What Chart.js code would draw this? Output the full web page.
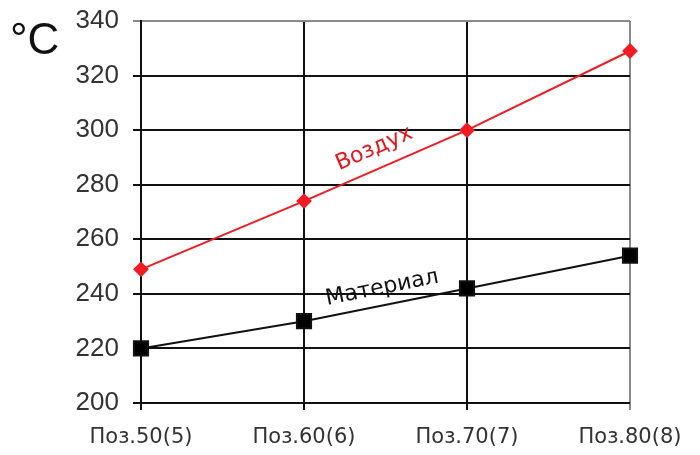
<!DOCTYPE html>
<html>
<head>
<meta charset="utf-8">
<script src="https://cdn.jsdelivr.net/npm/chart.js@4"></script>
<style>
  html, body { margin: 0; padding: 0; background: #fff; }
  #wrap { width: 700px; height: 455px; position: relative; }
</style>
</head>
<body>
<div id="wrap"><canvas id="tempChart"></canvas></div>
<script>
// data
const positions = ['Поз.50(5)', 'Поз.60(6)', 'Поз.70(7)', 'Поз.80(8)'];
const airTemp = [249, 274, 300, 329];
const materialTemp = [220, 230, 242, 254];
const yTicks = [200, 220, 240, 260, 280, 300, 320, 340];

// text labels drawn along the lines + unit in the corner
const lineLabels = {
  id: 'lineLabels',
  afterDatasetsDraw(chart) {
    const ctx = chart.ctx;
    const put = (dsIndex, text, color, t, lift) => {
      const meta = chart.getDatasetMeta(dsIndex);
      const a = meta.data[1], b = meta.data[2];
      const ang = Math.atan2(b.y - a.y, b.x - a.x);
      const x = a.x + (b.x - a.x) * t + Math.sin(ang) * lift;
      const y = a.y + (b.y - a.y) * t - Math.cos(ang) * lift;
      ctx.save();
      ctx.translate(x, y);
      ctx.rotate(ang);
      ctx.fillStyle = color;
      ctx.font = '22px "DejaVu Sans", sans-serif';
      ctx.textAlign = 'center';
      ctx.textBaseline = 'middle';
      ctx.fillText(text, 0, 0);
      ctx.restore();
    };
    put(0, 'Воздух', '#e8141b', 0.48, 20);
    put(1, 'Материал', '#111', 0.5, 17);

    ctx.save();
    ctx.fillStyle = '#111';
    ctx.font = '44px "Liberation Sans", Arial, sans-serif';
    ctx.textBaseline = 'top';
    ctx.fillText('°C', 10, 20);
    ctx.restore();
  }
};

const ctx = document.getElementById('tempChart').getContext('2d');
const tempChart = new Chart(ctx, {
  type: 'line',
  data: {
    labels: positions,
    datasets: [{
      label: 'Воздух',
      data: airTemp,
      borderColor: '#f01c22',
      backgroundColor: '#f01c22',
      borderWidth: 2,
      pointStyle: 'rectRot',
      pointRadius: 6.5,
      tension: 0
    }, {
      label: 'Материал',
      data: materialTemp,
      borderColor: '#111',
      backgroundColor: '#000',
      borderWidth: 2,
      pointStyle: 'rect',
      pointRadius: 10,
      tension: 0
    }]
  },
  options: {
    responsive: true,
    maintainAspectRatio: false,
    animation: false,
    layout: { padding: { top: 21, right: 70, bottom: 0, left: 0 } },
    plugins: {
      legend: { display: false },
      tooltip: { enabled: false }
    },
    scales: {
      x: {
        offset: false,
        afterFit: (scale) => { scale.height = 52; },
        grid: {
          color: (c) => c.index === positions.length - 1 ? '#8a8a8a' : '#111',
          lineWidth: 2,
          tickLength: 7,
          drawTicks: true
        },
        border: { display: false },
        ticks: {
          color: '#333',
          font: { family: '"DejaVu Sans", sans-serif', size: 21 },
          padding: 15,
          maxRotation: 0
        }
      },
      y: {
        min: yTicks[0],
        max: yTicks[yTicks.length - 1],
        afterFit: (scale) => {
          scale.width = 141;
          scale.paddingTop = 0;
          scale.paddingBottom = 0;
        },
        afterBuildTicks: (scale) => { scale.ticks = yTicks.map(v => ({ value: v })); },
        grid: {
          color: (c) => c.index === yTicks.length - 1 ? '#8a8a8a' : '#111',
          lineWidth: 2,
          tickLength: 8
        },
        border: { display: true, color: '#111', width: 2 },
        ticks: {
          color: '#333',
          font: { family: '"Liberation Sans", Arial, sans-serif', size: 26 },
          padding: 14
        }
      }
    }
  },
  plugins: [lineLabels]
});
</script>
</body>
</html>
